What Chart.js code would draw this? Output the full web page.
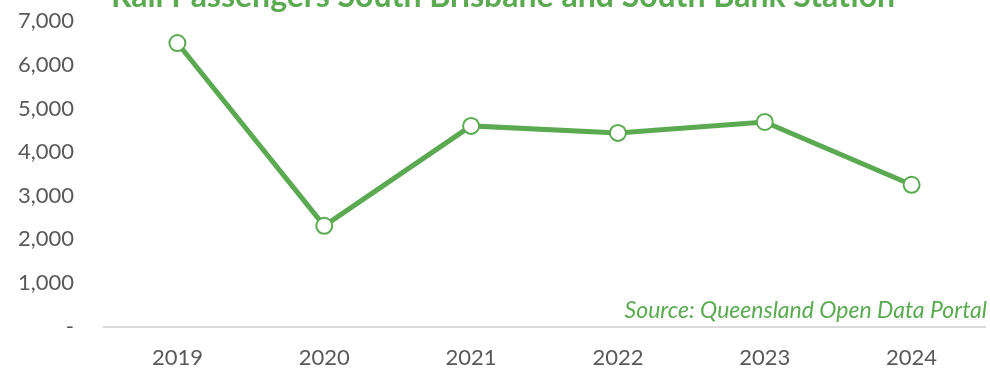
<!DOCTYPE html>
<html>
<head>
<meta charset="utf-8">
<script src="https://cdn.jsdelivr.net/npm/chart.js@4/dist/chart.umd.min.js"></script>
<style>
  html, body { margin: 0; padding: 0; background: #fff; }
  #wrap { width: 990px; height: 371px; position: relative; }
</style>
</head>
<body>
<div id="wrap"><canvas id="chart"></canvas></div>
<script>
const years = ['2019', '2020', '2021', '2022', '2023', '2024'];
const passengers = [6500, 2310, 4600, 4440, 4690, 3250];
const titleText = 'Rail Passengers South Brisbane and South Bank Station';
const sourceText = 'Source: Queensland Open Data Portal';

const green = '#5BAA52';
const grey = '#595959';

// Title and source note sit on top of the plot, drawn by hand
const annotations = {
  id: 'annotations',
  afterDraw(chart) {
    const {ctx, chartArea} = chart;
    ctx.save();
    ctx.fillStyle = green;
    ctx.font = 'bold 32px Lato';
    ctx.textAlign = 'center';
    ctx.textBaseline = 'alphabetic';
    ctx.fillText(titleText, 503, 7);
    ctx.font = 'italic 23px Lato';
    ctx.textAlign = 'right';
    ctx.textBaseline = 'middle';
    ctx.fillText(sourceText, chartArea.right + 2, chartArea.bottom - 16);
    ctx.restore();
  }
};

new Chart(document.getElementById('chart'), {
  type: 'line',
  data: {
    labels: years,
    datasets: [{
      data: passengers,
      borderColor: green,
      borderWidth: 5,
      pointRadius: 8,
      pointHoverRadius: 8,
      pointBackgroundColor: '#fff',
      pointBorderColor: green,
      pointBorderWidth: 2,
      tension: 0
    }]
  },
  options: {
    responsive: true,
    maintainAspectRatio: false,
    animation: false,
    layout: {autoPadding: false, padding: {top: 0, right: 5, bottom: 0, left: 0}},
    plugins: {legend: {display: false}, tooltip: {enabled: false}},
    scales: {
      x: {
        offset: true,
        grid: {display: false, drawTicks: true, tickLength: 18},
        border: {display: true, color: '#d9d9d9', width: 2},
        ticks: {color: grey, font: {family: 'Lato', size: 22}, padding: 0}
      },
      y: {
        min: 0,
        max: 7000,
        afterFit(scale) { scale.width = 104; },
        // hidden tick marks still push the labels left of the plot
        grid: {display: false, drawTicks: true, tickLength: 22},
        border: {display: false},
        ticks: {
          stepSize: 1000,
          color: grey,
          padding: 8,
          font: {family: 'Lato', size: 22},
          callback: (v) => v === 0 ? '-' : v.toLocaleString('en-US')
        }
      }
    }
  },
  plugins: [annotations]
});
</script>
</body>
</html>
